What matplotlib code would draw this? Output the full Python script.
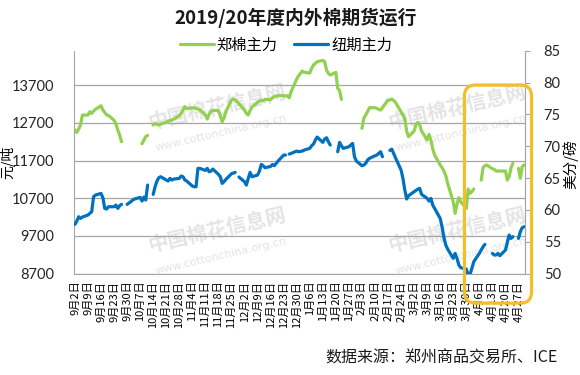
import numpy as np
import pandas as pd
import matplotlib
matplotlib.use("Agg")
import matplotlib.pyplot as plt
import matplotlib.dates as mdates
from matplotlib.patches import FancyBboxPatch
from matplotlib.transforms import IdentityTransform

plt.rcParams['font.family'] = ['Noto Sans CJK SC', 'DejaVu Sans']

# 数据行: 工作日 + 调休日, 两边都休市的元旦不算
extra_days = ['2019-09-29', '2019-10-12', '2020-04-26']
closed_days = ['2020-01-01']
dates = pd.bdate_range('2019-09-02', '2020-04-30')
dates = dates.drop(pd.to_datetime(closed_days)).union(pd.to_datetime(extra_days))

# 郑棉主力 (元/吨), None = 休市
zc = [
    12507, 12445, 12535, 12640, 12905,
    12905, 12993, 12949, 13011, 13055,
    13152, 13037, 12975, 12905, 12896,
    12764, 12666, 12507, 12375, 12198, None,
    None, None, None, None, None,
    None, 12146, 12242, 12331, 12366, None,
    12640, 12675, 12658, 12640, 12666,
    12711, 12746, 12755, 12773, 12799,
    12887, 12949, 13037, 13126, 13082,
    13090, 13099, 13082, 13064, 13046,
    12905, 12799, 12922, 13002, 13028,
    13020, 12887, 12728, 12834, 12993,
    13302, 13329, 13302, 13258, 13205,
    13037, 12949, 12905, 13028, 13117,
    13240, 13276, 13302, 13285, 13320,
    13311, 13364, 13391, 13408, 13417,
    13417, 13408, 13417, 13364, 13523,
    13859, 13947, 14071, 14036,
    14018, 14142, 14230, 14274, 14318,
    14354, 14318, 14097, 14009, 13965,
    14036, 13612, 13559, 13320, None,
    None, None, None, None, None,
    12552, 12817, 12905, 12993, 13099,
    13099, 13082, 13055, 13037, 13099,
    13302, 13302, 13329, 13294, 13240,
    12993, 12905, 12799, 12481, 12331,
    12481, 12658, 12711, 12640, 12481,
    12242, 12392, 12242, 12004, 11845,
    11580, 11509, 11421, 11297, 11094,
    10608, 10299, 10538, 10714, 10608,
    10431, 10944, 10829, 10873, 10944,
    None, 11182, 11509, 11562, 11580,
    11483, 11465, 11421, 11421, 11421,
    11421, 11182, 11271, 11509, 11624, None,
    11492, 11227, 11536, 11580,
]

# 纽期主力 (美分/磅)
ice = [
    57.74, 58.26, 58.94, 58.68, 58.89,
    59.21, 59.47, 59.73, 62.08, 62.34,
    62.60, 61.92, 60.25, 60.15, 60.51,
    60.51, 60.77, 60.25, 60.67, 60.88, None,
    60.88, 61.09, 61.30, 61.56, 61.72,
    61.98, 61.40, 62.03, 61.56, 63.91, None,
    62.45, 63.65, 64.54, 65.06, 65.22,
    64.70, 64.54, 64.96, 64.70, 64.85,
    64.96, 65.33, 65.22, 64.70, 64.54,
    63.76, 63.65, 63.65, 66.53, 66.53,
    66.21, 66.53, 66.00, 66.11, 66.42,
    65.59, 65.22, 64.17, 64.44, 64.80,
    65.69, 65.80, 65.90, None, 65.17,
    64.44, 63.91, 64.96, 65.90, 65.22,
    65.48, 66.11, 67.15, 66.95, 66.63,
    66.84, 67.15, 66.95, 67.31, 67.68,
    68.62, 68.62, None, 68.78, 68.88,
    69.25, 69.14, 69.25, 69.40,
    69.67, 70.08, 70.35, 70.97, 71.44,
    70.61, 71.13, 71.34, 70.71, 70.19,
    None, 69.14, 70.61, 70.08, 69.67,
    69.93, 70.19, 70.45, 68.36, 67.68,
    66.95, 67.05, 67.31, 67.83, 68.10,
    68.51, 68.62, 68.88, 69.14, 68.36,
    None, 69.35, 69.56, 68.88, 68.20,
    66.27, 64.96, 63.13, 61.72, 62.24,
    62.87, 63.08, 63.28, 63.39, 62.45,
    61.82, 61.40, 61.82, 60.77, 60.25,
    58.68, 57.37, 55.65, 54.50, 53.87,
    52.41, 53.19, 52.41, 51.36, 50.94,
    50.73, 49.79, 49.90, 50.84, 51.88,
    53.19, 53.71, 54.24, 54.60, None,
    53.19, 52.93, 52.93, 53.19, 52.82,
    53.71, 54.92, 56.07, 55.54, 55.81, None,
    55.54, 56.59, 57.22, 57.37,
]

left_ticks = [8700, 9700, 10700, 11700, 12700, 13700]
right_ticks = [50, 55, 60, 65, 70, 75, 80, 85]
tick_days = pd.date_range('2019-09-02', '2020-04-27', freq='7D')
tick_labels = [f"{d.month}月{d.day}日" for d in tick_days]

x = mdates.date2num(dates.to_pydatetime())
zc = np.array(zc, dtype=float)
ice = np.array(ice, dtype=float)

W, H = 580, 375
fig = plt.figure(figsize=(W / 100, H / 100), dpi=100)

# 水印
for cx in [217, 457]:
    for cy in [107, 230]:
        fig.text(cx / W, 1 - cy / H, '中国棉花信息网', fontsize=14.5, fontweight='bold',
                 color='#e4e4e4', rotation=13, ha='center', va='center', zorder=-2)
        fig.text((cx + 4) / W, 1 - (cy + 26) / H, 'www.cottonchina.org.cn', fontsize=8,
                 color='#e4e4e4', rotation=13, ha='center', va='center', zorder=-2,
                 family='DejaVu Sans')

ax = fig.add_axes([74 / W, 1 - 273.7 / H, (525 - 74) / W, (273.7 - 50.7) / H])
ax.patch.set_alpha(0)
ax2 = ax.twinx()

l1, = ax.plot(x, zc, color='#92D050', lw=2.3, solid_capstyle='round')
l2, = ax2.plot(x, ice, color='#0070C0', lw=2.3, solid_capstyle='round')

ax.set_xlim(x[0] - 0.5, x[-1] + 0.5)
ax.set_ylim(8700, 14610)
ax2.set_ylim(50, 85)

ax.set_yticks(left_ticks)
ax2.set_yticks(right_ticks)
ax.set_xticks(mdates.date2num(tick_days.to_pydatetime()))
ax.set_xticklabels(tick_labels, rotation=90, fontsize=8)
ax.tick_params(axis='x', length=0, pad=5)
ax.tick_params(axis='y', length=0, pad=14, labelsize=10.5)
ax2.tick_params(axis='y', length=3.5, color='#a6a6a6', pad=10, labelsize=10.5)
for lab in ax.get_yticklabels() + ax2.get_yticklabels():
    lab.set_family('Lato')
    lab.set_color('#262626')

ax.grid(axis='y', color='#a6a6a6', lw=0.9)
ax.set_axisbelow(True)
for a in (ax, ax2):
    a.spines['top'].set_visible(False)
    for s in ('left', 'right', 'bottom'):
        a.spines[s].set_color('#a6a6a6')
ax2.spines['left'].set_visible(False)
ax2.spines['bottom'].set_visible(False)

fig.text(296 / W, 1 - 18 / H, '2019/20年度内外棉期货运行', ha='center', va='center',
         fontsize=13.5, fontweight='bold', color='#1a1a1a')
fig.legend([l1, l2], ['郑棉主力', '纽期主力'], loc='center', bbox_to_anchor=(286 / W, 1 - 45 / H),
           ncol=2, frameon=False, fontsize=11, handlelength=2.2, handletextpad=0.2,
           columnspacing=1.1)
fig.text(8 / W, 1 - 162 / H, '元/吨', rotation=90, ha='center', va='center', fontsize=10)
fig.text(570 / W, 1 - 164 / H, '美分/磅', rotation=90, ha='center', va='center', fontsize=10.5)
fig.text(558 / W, 1 - 358 / H, '数据来源：郑州商品交易所、ICE', ha='right', va='center',
         fontsize=11.5, color='#1a1a1a')

# 黄色框: 3月底之后
bx0 = mdates.date2num(pd.Timestamp('2020-03-29').to_pydatetime())
bx1 = mdates.date2num(pd.Timestamp('2020-05-04').to_pydatetime())
p0 = ax.transData.transform((bx0, 7920))
p1 = ax.transData.transform((bx1, 13700))
box = FancyBboxPatch(tuple(p0), p1[0] - p0[0], p1[1] - p0[1],
                     boxstyle='round,pad=0,rounding_size=11', transform=IdentityTransform(),
                     fill=False, ec='#F3BE2A', lw=2.3, clip_on=False, zorder=5)
fig.add_artist(box)

fig.savefig('out.png', dpi=100)
